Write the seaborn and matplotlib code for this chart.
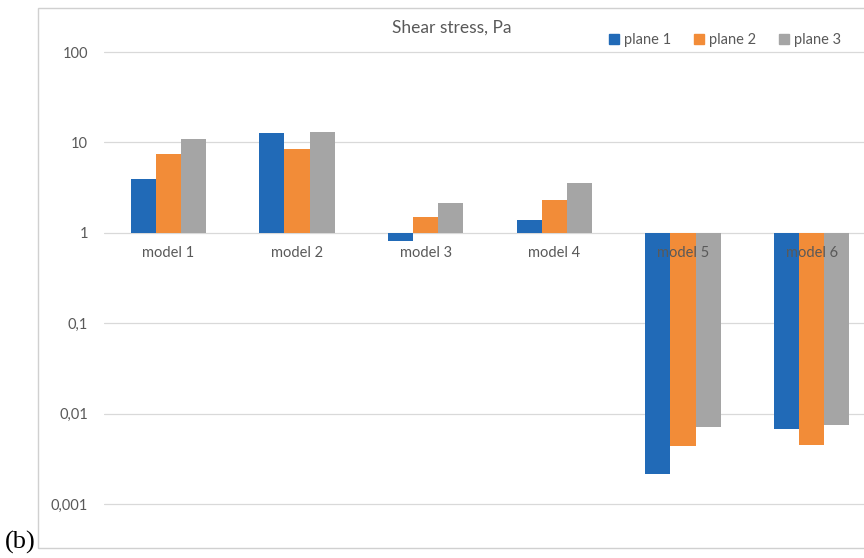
import numpy as np
import pandas as pd
import seaborn as sns
import matplotlib
matplotlib.use("Agg")
import matplotlib.pyplot as plt
from matplotlib.patches import Rectangle
from matplotlib.lines import Line2D

# Shear stress (Pa) per model and measurement plane
models = ["model 1", "model 2", "model 3", "model 4", "model 5", "model 6"]
planes = ["plane 1", "plane 2", "plane 3"]
plane1 = [3.95, 12.6, 0.81, 1.37, 0.00214, 0.00678]
plane2 = [7.4, 8.5, 1.48, 2.29, 0.0044, 0.00451]
plane3 = [10.8, 12.9, 2.12, 3.59, 0.00713, 0.0075]
tick_values = [0.001, 0.01, 0.1, 1, 10, 100]
tick_labels = ["0,001", "0,01", "0,1", "1", "10", "100"]
colors = ["#216AB7", "#F28C38", "#A5A5A5"]

rows = []
for series, name in zip([plane1, plane2, plane3], planes):
    for m, v in zip(models, series):
        rows.append({"model": m, "plane": name, "log_stress": np.log10(v)})
df = pd.DataFrame(rows)

sns.set_theme(style="white")
plt.rcParams["font.family"] = ["Lato", "DejaVu Sans"]

fig = plt.figure(figsize=(8.64, 5.58), dpi=100)
W, H = 864, 558

# chart frame
fig.patches.append(Rectangle((38 / W, 1 - 548 / H), 1.0, (548 - 8) / H,
                             transform=fig.transFigure, fill=False,
                             edgecolor="#d0d0d0", linewidth=1.0))

ax = fig.add_axes([104 / W, (H - 530) / H, 772 / W, 500 / H])
sns.barplot(data=df, x="model", y="log_stress", hue="plane", palette=colors,
            width=0.585, gap=0, saturation=1, legend=False, ax=ax,
            linewidth=0, zorder=2)

top = 2 + 22 / 90.4
bottom = -3 - 26 / 90.4
ax.set_ylim(bottom, top)
ax.set_xlim(-0.5, len(models) - 0.5)

# horizontal gridlines at each decade
for t in tick_values:
    ax.axhline(np.log10(t), color="#d9d9d9", linewidth=0.9, zorder=0)

ax.set_yticks(np.log10(tick_values))
ax.set_yticklabels(tick_labels)
for s in ["top", "right", "left"]:
    ax.spines[s].set_visible(False)
ax.spines["bottom"].set_position(("data", 0))
ax.spines["bottom"].set_visible(False)
ax.tick_params(axis="y", length=0, pad=11.5, labelsize=10.5, labelcolor="#595959")
ax.tick_params(axis="x", length=0, pad=9.5, labelsize=10.5, labelcolor="#595959")
ax.xaxis.set_zorder(5)
ax.set_xlabel("")
ax.set_ylabel("")
ax.patch.set_alpha(0)

fig.text(452 / W, 1 - 28 / H, "Shear stress, Pa", ha="center", va="center",
         fontsize=12.5, color="#595959")

handles = [Line2D([], [], marker="s", linestyle="none", markersize=7,
                  markerfacecolor=c, markeredgecolor=c) for c in colors]
fig.legend(handles, planes, loc="center", bbox_to_anchor=(0.838, 1 - 40 / H),
           ncol=3, frameon=False, fontsize=10.5, handletextpad=0.2,
           columnspacing=1.4, labelcolor="#595959", handlelength=1.0)

fig.text(5 / W, 1 - 542 / H, "(b)", ha="left", va="center", fontsize=19,
         family=["Liberation Serif", "DejaVu Serif"], color="black")

fig.savefig("out.png", dpi=100)
